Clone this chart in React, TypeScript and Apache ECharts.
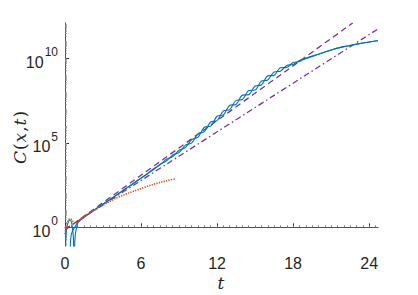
import React, { useEffect, useRef } from "react";
import * as echarts from "echarts";

// exponents: values are log10 C(x,t)
const blueLoop: number[][] = [
  [0.02, -2], [0.08, -0.5], [0.15, 0.0], [0.25, 0.3], [0.35, 0.43], [0.45, 0.42],
  [0.53, 0.25], [0.6, -0.1], [0.66, -0.6], [0.7, -2],
];
const blueA: number[][] = [
  [0.72, -2], [0.8, -0.5], [0.92, 0.0], [1.05, 0.33], [1.5, 0.6], [2.0, 0.88], [2.5, 1.12],
  [3.0, 1.38], [3.5, 1.62], [4.0, 1.88], [4.5, 2.14], [5.0, 2.4], [5.5, 2.66], [6.0, 2.92],
  [6.5, 3.18], [7.0, 3.47], [7.5, 3.7], [8.0, 4.03], [8.5, 4.19], [9.0, 4.57], [9.5, 4.73],
  [10.0, 5.2], [10.5, 5.35], [11.0, 5.93], [11.5, 6.0], [12.0, 6.58], [12.5, 6.66],
  [13.0, 7.23], [13.5, 7.28], [14.0, 7.83], [14.5, 7.86], [15.0, 8.37], [15.5, 8.43],
  [16.0, 8.97], [16.5, 9.0], [17.0, 9.45], [17.5, 9.47], [18.0, 9.76], [18.5, 9.82],
  [19.0, 10.02], [20.0, 10.25], [21.0, 10.5], [22.0, 10.7], [23.0, 10.85], [24.0, 10.98],
  [24.7, 11.05],
];
const blueB: number[][] = [
  [0.38, -2], [0.46, -0.6], [0.6, -0.2], [0.8, 0.05], [1.0, 0.28], [1.5, 0.6], [2.0, 0.88],
  [2.5, 1.12], [3.0, 1.38], [3.5, 1.62], [4.0, 1.88], [4.5, 2.14], [5.0, 2.4], [5.5, 2.66],
  [6.0, 2.92], [6.5, 3.18], [7.0, 3.43], [7.5, 3.74], [8.0, 3.93], [8.5, 4.29], [9.0, 4.43],
  [9.5, 4.87], [10.0, 5.0], [10.5, 5.55], [11.0, 5.67], [11.5, 6.24], [12.0, 6.32],
  [12.5, 6.9], [13.0, 6.97], [13.5, 7.52], [14.0, 7.57], [14.5, 8.1], [15.0, 8.13],
  [15.5, 8.67], [16.0, 8.73], [16.5, 9.2], [17.0, 9.25], [17.5, 9.59], [18.0, 9.64],
  [18.5, 9.88], [19.0, 9.98], [20.0, 10.25], [21.0, 10.5], [22.0, 10.7], [23.0, 10.85],
  [24.0, 10.98], [24.7, 11.05],
];
const orangeDots: number[][] = [
  [0.0, -0.4], [0.1, 0.05], [0.2, 0.32], [0.3, 0.47], [0.4, 0.52], [0.5, 0.48], [0.6, 0.38],
  [0.7, 0.28], [0.8, 0.24], [0.9, 0.27], [1.0, 0.33], [1.5, 0.62], [2.0, 0.88], [2.5, 1.1],
  [3.0, 1.32], [3.5, 1.52], [4.0, 1.72], [4.5, 1.88], [5.0, 2.03], [5.5, 2.17], [6.0, 2.3],
  [6.5, 2.43], [7.0, 2.55], [7.5, 2.66], [8.0, 2.76], [8.7, 2.87],
];
const purpleDashed: number[][] = [[0, -0.15], [22.7, 12.1]];
const purpleDashDot: number[][] = [[0, -0.1], [24.7, 11.75]];

const xTickLabels = [0, 6, 12, 18, 24];
const yTickLabels = [0, 5, 10];
const xMin = 0, xMax = 24.7;
const yMin = -1.1, yMax = 12.1;

const BLUE = "#0072BD";
const ORANGE = "#D95319";
const PURPLE = "#7E2F8E";
const AX = "#262626";
const FONT = "'Liberation Sans', Arial, sans-serif";

export default function App() {
  const ref = useRef<HTMLDivElement>(null);
  useEffect(() => {
    if (!ref.current) return;
    const chart = echarts.init(ref.current, undefined, { renderer: "svg" });
    const xMinor: number[] = [];
    for (let v = 0; v <= 24.5; v += 0.5) xMinor.push(v);
    const yMinor: number[] = [];
    for (let d = -1; d <= 12; d++) {
      for (let k = 1; k <= 9; k++) {
        const v = d + Math.log10(k);
        if (v >= yMin && v <= yMax) yMinor.push(v);
      }
    }
    const grid = { left: 65, right: 40, top: 23, bottom: 49 };
    const line = (data: number[][], color: string, type: any, width: number, z = 2) => ({
      type: "line",
      data,
      xAxisIndex: 0,
      yAxisIndex: 0,
      showSymbol: false,
      symbol: "none",
      smooth: 0.3,
      clip: true,
      z,
      lineStyle: { color, width, type },
    });
    chart.setOption({
      animation: false,
      grid,
      xAxis: [
        {
          type: "value", min: xMin, max: xMax, position: "bottom",
          splitLine: { show: false },
          axisLine: { show: true, lineStyle: { color: AX, width: 0.8 } },
          axisTick: { show: true, inside: true, length: 4, customValues: xTickLabels, lineStyle: { color: AX } },
          axisLabel: { customValues: xTickLabels, color: AX, fontSize: 16, fontFamily: FONT, margin: 9 },
        },
        {
          type: "value", min: xMin, max: xMax, position: "bottom",
          splitLine: { show: false },
          axisLine: { show: false },
          axisTick: { show: true, inside: true, length: 2, customValues: xMinor, lineStyle: { color: "#777" } },
          axisLabel: { show: false },
        },
      ],
      yAxis: [
        {
          type: "value", min: yMin, max: yMax, position: "left",
          splitLine: { show: false },
          axisLine: { show: true, lineStyle: { color: AX, width: 0.8 } },
          axisTick: { show: true, inside: true, length: 4, customValues: yTickLabels, lineStyle: { color: AX } },
          axisLabel: {
            customValues: yTickLabels,
            margin: 7,
            formatter: (v: number) => "{b|10}{s|" + v + "}",
            rich: {
              b: { fontSize: 16, fontFamily: FONT, color: AX, lineHeight: 24, verticalAlign: "bottom" },
              s: { fontSize: 12, fontFamily: FONT, color: AX, lineHeight: 14, verticalAlign: "top", padding: [0, 0, 0, 1] },
            },
          },
        },
        {
          type: "value", min: yMin, max: yMax, position: "left",
          splitLine: { show: false },
          axisLine: { show: false },
          axisTick: { show: true, inside: true, length: 2, customValues: yMinor, lineStyle: { color: "#888", width: 0.7 } },
          axisLabel: { show: false },
        },
      ],
      series: [
        line(purpleDashed, PURPLE, [6, 4], 1.3, 3),
        line(purpleDashDot, PURPLE, [6, 3, 1.5, 3], 1.3, 3),
        line(blueLoop, BLUE, "solid", 1.1, 4),
        line(blueA, BLUE, "solid", 1.1, 4),
        line(blueB, BLUE, "solid", 1.1, 4),
        line(orangeDots, ORANGE, [1.3, 1.2], 1.6, 5),
      ],
      graphic: [
        {
          type: "text",
          rotation: Math.PI / 2,
          x: 20, y: 137,
          style: {
            text: "{i|C}{n|(}{i|x}{n|,}{i|t}{n|)}",
            align: "center",
            verticalAlign: "middle",
            rich: {
              i: { fontFamily: "'DejaVu Serif', 'Liberation Serif', serif", fontStyle: "italic", fontSize: 17, fill: AX },
              n: { fontFamily: "'DejaVu Serif', 'Liberation Serif', serif", fontSize: 17, fill: AX, padding: [0, 1, 0, 1] },
            },
          },
        },
        {
          type: "text",
          x: 221, y: 283,
          style: {
            text: "t",
            align: "center",
            verticalAlign: "middle",
            fontFamily: "'DejaVu Serif', 'Liberation Serif', serif",
            fontStyle: "italic",
            fontSize: 17,
            fill: AX,
          },
        },
      ],
    });
    return () => chart.dispose();
  }, []);
  return (
    <div
      ref={ref}
      style={{ position: "fixed", left: 0, top: 0, width: 418, height: 295, background: "#fff" }}
    />
  );
}
